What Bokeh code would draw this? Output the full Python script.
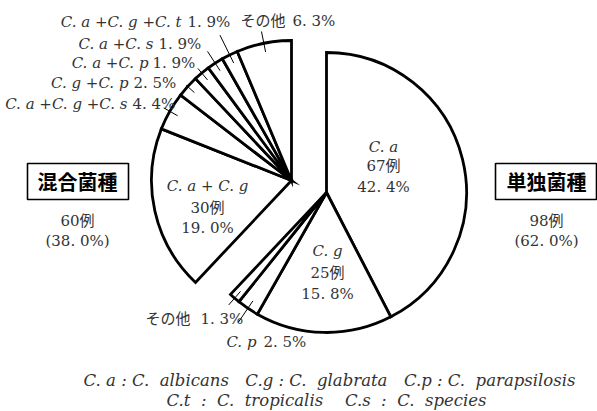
import numpy as np
from bokeh.plotting import figure
from bokeh.models import Range1d, ColumnDataSource
from bokeh.core.properties import value
from bokeh.embed import file_html
from bokeh.resources import INLINE

# ---------------- data ----------------
single_names = ["C. a", "C. g", "C. p", "その他"]
single_counts = [67, 25, 4, 2]
single_pcts = [42.4, 15.8, 2.5, 1.3]

mixed_names = ["C. a + C. g", "C. a +C. g +C. s", "C. g +C. p", "C. a +C. p",
               "C. a +C. s", "C. a +C. g +C. t", "その他"]
mixed_counts = [30, 7, 4, 3, 3, 3, 10]
mixed_pcts = [19.0, 4.4, 2.5, 1.9, 1.9, 1.9, 6.3]

group_names = ["単独菌種", "混合菌種"]
group_counts = [98, 60]
group_pcts = [62.0, 38.0]

footer_lines = ["C. a : C.\u00a0 albicans\u3000C.g : C.\u00a0 glabrata\u3000C.p : C.\u00a0 parapsilosis",
                "C.t\u00a0 :\u00a0 C.\u00a0 tropicalis\u3000\u00a0C.s\u00a0 :\u00a0 C.\u00a0 species"]

# ---------------- layout ----------------
W, H = 597, 411
def Y(yp):
    return H - yp

R = 140
centers = {"single": (326, Y(192)), "mixed": (291, Y(180))}
FONT = value("DejaVu Serif, Noto Sans CJK JP")
FS = "15px"
TXT = "#333333"

def pct_txt(v):
    return f"{v:.1f}%".replace(".", ". ")

p = figure(width=W, height=H, x_range=Range1d(0, W), y_range=Range1d(0, H),
           output_backend="svg", toolbar_location=None, min_border=0,
           x_axis_location=None, y_axis_location=None, outline_line_color=None,
           background_fill_color="white", border_fill_color="white")
p.grid.visible = False

total = sum(single_counts) + sum(mixed_counts)

def wedge_source(counts, start_count, center):
    cum = start_count + np.concatenate([[0], np.cumsum(counts)])
    th1 = cum[:-1] / total * 360.0
    th2 = cum[1:] / total * 360.0
    cx, cy = center
    return ColumnDataSource(dict(
        x=[cx] * len(counts), y=[cy] * len(counts),
        start=np.radians(90 - th2), end=np.radians(90 - th1),
        mid=(th1 + th2) / 2))

src_s = wedge_source(single_counts, 0, centers["single"])
src_m = wedge_source(mixed_counts, sum(single_counts), centers["mixed"])
for src in (src_s, src_m):
    p.wedge(x="x", y="y", radius=R, start_angle="start", end_angle="end",
            fill_color="white", line_color="black", line_width=2.8,
            line_join="miter", source=src)

# ---------- inside labels for large slices ----------
inside = [  # (group, index, x, y-lines)
    ("single", 0, 383, (146, 165, 186)),
    ("single", 1, 327, (250, 272, 293)),
    ("mixed", 0, 207, (185, 207, 227)),
]
for grp, i, x, ys in inside:
    names = single_names if grp == "single" else mixed_names
    counts = single_counts if grp == "single" else mixed_counts
    pcts = single_pcts if grp == "single" else mixed_pcts
    p.text(x=[x], y=[Y(ys[0])], text=[names[i]], text_font=FONT, text_font_size=FS,
           text_font_style="italic", text_align="center", text_baseline="middle",
           text_color=TXT)
    p.text(x=[x, x], y=[Y(ys[1]), Y(ys[2])], text=[f"{counts[i]}例", pct_txt(pcts[i])],
           text_font=FONT, text_font_size=FS, text_align="center",
           text_baseline="middle", text_color=TXT)

# ---------- outside labels with leader lines ----------
outside = [  # (group, index, y, name_end_x, pct_start_x, leader_outer_r)
    ("single", 2, 341, 256, 263, 157),
    ("single", 3, 318, 190, 200, 149),
    ("mixed", 1, 103, 127, 132, 147),
    ("mixed", 2, 82, 128, 133, 142),
    ("mixed", 3, 62, 148, 152, 146),
    ("mixed", 4, 43, 153, 158, 154),
    ("mixed", 5, 21, 181, 187, 162),
    ("mixed", 6, 20, 285, 292, 152),
]
seg = dict(x0=[], y0=[], x1=[], y1=[])
for grp, i, y, xe, xp, ro in outside:
    names = single_names if grp == "single" else mixed_names
    pcts = single_pcts if grp == "single" else mixed_pcts
    src = src_s if grp == "single" else src_m
    cx, cy = centers[grp]
    m = np.radians(src.data["mid"][i])
    ri = 131
    seg["x0"].append(cx + ri * np.sin(m)); seg["y0"].append(cy + ri * np.cos(m))
    seg["x1"].append(cx + ro * np.sin(m)); seg["y1"].append(cy + ro * np.cos(m))
    is_latin = names[i].startswith("C")
    p.text(x=[xe], y=[Y(y)], text=[names[i]], text_font=FONT, text_font_size=FS,
           text_font_style="italic" if is_latin else "normal",
           text_align="right", text_baseline="middle", text_color=TXT)
    p.text(x=[xp], y=[Y(y)], text=[pct_txt(pcts[i])], text_font=FONT,
           text_font_size=FS, text_align="left", text_baseline="middle",
           text_color=TXT)
p.segment(x0="x0", y0="y0", x1="x1", y1="y1", source=ColumnDataSource(seg),
          line_color="black", line_width=1)

# ---------- group boxes ----------
boxes = [  # (index, left, right, top, bottom, text_x)
    (1, 27, 128, 163, 199, 77),
    (0, 495, 596, 163, 199, 546),
]
for gi, l, r, t, b, tx in boxes:
    p.quad(left=[l], right=[r], top=[Y(t)], bottom=[Y(b)], fill_color="white",
           line_color="black", line_width=1.6)
    p.text(x=[tx], y=[Y(181)], text=[group_names[gi]],
           text_font=value("Noto Sans CJK JP"), text_font_size="20px",
           text_font_style="bold", text_align="center", text_baseline="middle",
           text_color="black")
    p.text(x=[tx, tx], y=[Y(220), Y(240)],
           text=[f"{group_counts[gi]}例", "(" + pct_txt(group_pcts[gi]) + ")"],
           text_font=FONT, text_font_size=FS, text_align="center",
           text_baseline="middle", text_color=TXT)

# ---------- footer ----------
p.text(x=[329, 326], y=[Y(380), Y(400)], text=footer_lines, text_font=FONT,
       text_font_size="16.5px", text_font_style="italic", text_align="center",
       text_baseline="middle", text_color=TXT)

open("out.html", "w").write(file_html(p, INLINE))
